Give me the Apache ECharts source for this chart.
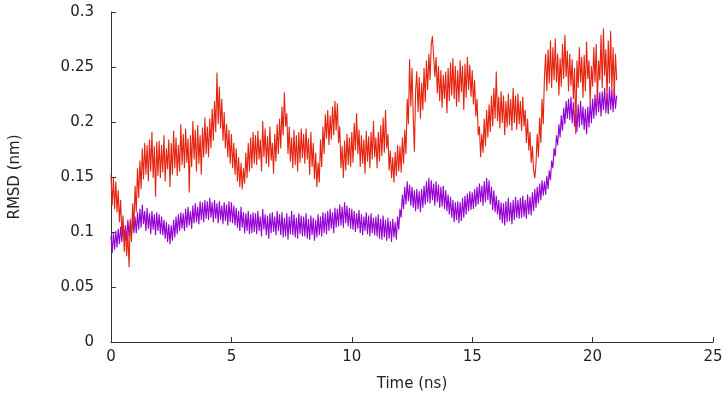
<!DOCTYPE html>
<html>
<head>
<meta charset="utf-8">
<script src="https://cdn.jsdelivr.net/npm/echarts@6/dist/echarts.min.js"></script>
<style>
  html, body { margin: 0; padding: 0; background: #fff; }
  #chart { width: 728px; height: 403px; }
</style>
</head>
<body>
<div id="chart"></div>
<script>
// sampling step of the trajectory (ns)
const timeStep = 0.05
const xTicks = [0, 5, 10, 15, 20, 25]
const yTicks = [0, 0.05, 0.1, 0.15, 0.2, 0.25, 0.3]

// red trace, one row per ns
const rmsdRed = [
  0.152, 0.124, 0.149, 0.121, 0.146, 0.118, 0.138, 0.109, 0.129, 0.098, 0.115, 0.082, 0.104, 0.078, 0.099, 0.068, 0.112, 0.091, 0.126, 0.104,
  0.142, 0.118, 0.158, 0.131, 0.165, 0.139, 0.176, 0.148, 0.181, 0.152, 0.179, 0.146, 0.184, 0.155, 0.191, 0.149, 0.178, 0.132, 0.182, 0.151,
  0.183, 0.149, 0.179, 0.154, 0.188, 0.146, 0.176, 0.157, 0.184, 0.141, 0.181, 0.152, 0.192, 0.158, 0.186, 0.151, 0.179, 0.155, 0.198, 0.161,
  0.189, 0.158, 0.194, 0.163, 0.185, 0.136, 0.188, 0.159, 0.201, 0.166, 0.193, 0.155, 0.197, 0.162, 0.188, 0.152, 0.195, 0.168, 0.204, 0.171,
  0.196, 0.168, 0.203, 0.176, 0.212, 0.183, 0.219, 0.191, 0.245, 0.198, 0.232, 0.194, 0.221, 0.183, 0.209, 0.176, 0.198, 0.168, 0.193, 0.162,
  0.189, 0.158, 0.181, 0.152, 0.176, 0.146, 0.168, 0.141, 0.163, 0.139, 0.158, 0.144, 0.172, 0.149, 0.181, 0.155, 0.186, 0.158, 0.191, 0.162,
  0.188, 0.161, 0.192, 0.166, 0.184, 0.155, 0.201, 0.168, 0.194, 0.162, 0.187, 0.159, 0.196, 0.165, 0.181, 0.153, 0.189, 0.164, 0.198, 0.171,
  0.203, 0.176, 0.214, 0.188, 0.227, 0.196, 0.208, 0.171, 0.196, 0.164, 0.186, 0.158, 0.193, 0.161, 0.188, 0.155, 0.191, 0.163, 0.194, 0.167,
  0.189, 0.162, 0.194, 0.166, 0.185, 0.152, 0.191, 0.159, 0.181, 0.148, 0.172, 0.141, 0.163, 0.145, 0.184, 0.159, 0.196, 0.171, 0.207, 0.185,
  0.211, 0.179, 0.206, 0.184, 0.214, 0.188, 0.219, 0.192, 0.217, 0.181, 0.196, 0.158, 0.178, 0.149, 0.183, 0.156, 0.189, 0.161, 0.186, 0.159,
  0.191, 0.163, 0.199, 0.174, 0.208, 0.171, 0.193, 0.159, 0.188, 0.162, 0.184, 0.153, 0.192, 0.164, 0.187, 0.158, 0.191, 0.166, 0.201, 0.168,
  0.186, 0.158, 0.191, 0.164, 0.197, 0.169, 0.204, 0.172, 0.211, 0.176, 0.189, 0.156, 0.174, 0.149, 0.168, 0.145, 0.173, 0.151, 0.179, 0.155,
  0.178, 0.154, 0.186, 0.162, 0.193, 0.171, 0.221, 0.198, 0.257, 0.214, 0.249, 0.206, 0.173, 0.228, 0.246, 0.209, 0.241, 0.203, 0.236, 0.211,
  0.249, 0.218, 0.256, 0.229, 0.262, 0.238, 0.271, 0.278, 0.258, 0.241, 0.259, 0.226, 0.251, 0.219, 0.247, 0.213, 0.243, 0.221, 0.246, 0.208,
  0.249, 0.219, 0.254, 0.224, 0.258, 0.221, 0.251, 0.214, 0.247, 0.218, 0.256, 0.227, 0.251, 0.211, 0.253, 0.222, 0.259, 0.229, 0.252, 0.223,
  0.247, 0.216, 0.238, 0.205, 0.221, 0.188, 0.196, 0.168, 0.189, 0.172, 0.203, 0.178, 0.211, 0.186, 0.216, 0.191, 0.224, 0.196, 0.231, 0.203,
  0.246, 0.201, 0.223, 0.194, 0.228, 0.199, 0.224, 0.188, 0.219, 0.195, 0.226, 0.197, 0.221, 0.192, 0.231, 0.199, 0.224, 0.193, 0.226, 0.198,
  0.219, 0.192, 0.223, 0.196, 0.211, 0.181, 0.203, 0.174, 0.191, 0.163, 0.178, 0.156, 0.149, 0.162, 0.189, 0.168, 0.204, 0.181, 0.221, 0.198,
  0.241, 0.262, 0.228, 0.266, 0.235, 0.274, 0.231, 0.268, 0.238, 0.276, 0.236, 0.262, 0.224, 0.258, 0.232, 0.271, 0.239, 0.279, 0.241, 0.265,
  0.228, 0.262, 0.233, 0.257, 0.221, 0.249, 0.189, 0.256, 0.231, 0.268, 0.236, 0.259, 0.222, 0.261, 0.228, 0.273, 0.239, 0.256, 0.217, 0.251,
  0.232, 0.268, 0.236, 0.271, 0.219, 0.256, 0.238, 0.279, 0.231, 0.285, 0.242, 0.266, 0.221, 0.274, 0.235, 0.283, 0.228, 0.268, 0.224, 0.262,
  0.238
]

// purple trace, one row per ns
const rmsdPurple = [
  0.096, 0.081, 0.099, 0.084, 0.101, 0.086, 0.103, 0.089, 0.105, 0.091, 0.108, 0.094, 0.106, 0.092, 0.111, 0.096, 0.109, 0.098, 0.113, 0.099,
  0.114, 0.099, 0.118, 0.102, 0.121, 0.104, 0.125, 0.107, 0.119, 0.101, 0.122, 0.103, 0.117, 0.098, 0.119, 0.102, 0.116, 0.097, 0.118, 0.101,
  0.116, 0.098, 0.114, 0.097, 0.111, 0.094, 0.109, 0.091, 0.107, 0.089, 0.106, 0.092, 0.111, 0.095, 0.114, 0.098, 0.116, 0.101, 0.118, 0.103,
  0.117, 0.101, 0.121, 0.104, 0.123, 0.106, 0.119, 0.103, 0.124, 0.108, 0.126, 0.109, 0.123, 0.107, 0.128, 0.111, 0.127, 0.109, 0.129, 0.112,
  0.128, 0.111, 0.131, 0.113, 0.127, 0.109, 0.129, 0.112, 0.126, 0.108, 0.128, 0.111, 0.124, 0.107, 0.127, 0.110, 0.125, 0.106, 0.128, 0.109,
  0.127, 0.108, 0.124, 0.106, 0.122, 0.104, 0.119, 0.101, 0.123, 0.104, 0.118, 0.099, 0.117, 0.101, 0.119, 0.098, 0.116, 0.099, 0.118, 0.100,
  0.117, 0.098, 0.119, 0.101, 0.114, 0.096, 0.121, 0.102, 0.116, 0.097, 0.115, 0.094, 0.117, 0.099, 0.118, 0.100, 0.114, 0.097, 0.119, 0.101,
  0.116, 0.097, 0.118, 0.095, 0.113, 0.096, 0.117, 0.093, 0.114, 0.098, 0.119, 0.097, 0.116, 0.095, 0.113, 0.094, 0.117, 0.098, 0.115, 0.096,
  0.114, 0.096, 0.117, 0.094, 0.112, 0.093, 0.115, 0.097, 0.113, 0.092, 0.111, 0.095, 0.116, 0.097, 0.114, 0.096, 0.118, 0.099, 0.117, 0.098,
  0.119, 0.101, 0.121, 0.103, 0.118, 0.099, 0.122, 0.104, 0.121, 0.105, 0.125, 0.106, 0.123, 0.104, 0.127, 0.108, 0.124, 0.105, 0.122, 0.103,
  0.121, 0.102, 0.119, 0.100, 0.117, 0.103, 0.120, 0.099, 0.116, 0.097, 0.114, 0.101, 0.118, 0.098, 0.115, 0.096, 0.117, 0.099, 0.113, 0.097,
  0.114, 0.096, 0.116, 0.094, 0.112, 0.093, 0.115, 0.095, 0.111, 0.092, 0.113, 0.094, 0.110, 0.091, 0.112, 0.095, 0.109, 0.093, 0.114, 0.102,
  0.121, 0.113, 0.134, 0.121, 0.141, 0.125, 0.146, 0.128, 0.143, 0.124, 0.141, 0.122, 0.138, 0.119, 0.139, 0.121, 0.137, 0.118, 0.139, 0.122,
  0.142, 0.125, 0.146, 0.127, 0.149, 0.126, 0.147, 0.129, 0.144, 0.124, 0.146, 0.127, 0.143, 0.122, 0.141, 0.123, 0.142, 0.121, 0.138, 0.119,
  0.134, 0.116, 0.132, 0.113, 0.129, 0.109, 0.127, 0.111, 0.128, 0.108, 0.127, 0.110, 0.131, 0.113, 0.133, 0.116, 0.135, 0.119, 0.137, 0.120,
  0.136, 0.121, 0.139, 0.123, 0.141, 0.125, 0.144, 0.127, 0.142, 0.124, 0.146, 0.127, 0.149, 0.129, 0.147, 0.125, 0.141, 0.120, 0.138, 0.118,
  0.133, 0.116, 0.129, 0.111, 0.127, 0.108, 0.126, 0.106, 0.128, 0.109, 0.131, 0.110, 0.127, 0.107, 0.129, 0.111, 0.132, 0.113, 0.129, 0.112,
  0.131, 0.113, 0.133, 0.114, 0.129, 0.112, 0.134, 0.116, 0.132, 0.115, 0.136, 0.119, 0.139, 0.122, 0.141, 0.126, 0.144, 0.129, 0.147, 0.133,
  0.146, 0.134, 0.151, 0.139, 0.156, 0.147, 0.165, 0.158, 0.176, 0.169, 0.188, 0.179, 0.198, 0.186, 0.206, 0.192, 0.213, 0.198, 0.219, 0.203,
  0.221, 0.202, 0.223, 0.199, 0.218, 0.196, 0.214, 0.191, 0.216, 0.195, 0.219, 0.197, 0.214, 0.193, 0.212, 0.189, 0.214, 0.195, 0.218, 0.199,
  0.221, 0.203, 0.225, 0.206, 0.229, 0.209, 0.227, 0.205, 0.228, 0.211, 0.231, 0.208, 0.226, 0.207, 0.232, 0.211, 0.229, 0.209, 0.231, 0.212,
  0.224
]

const toPoints = arr => arr.map((v, i) => [+(i * timeStep).toFixed(2), v])

const chart = echarts.init(document.getElementById('chart'), null, { renderer: 'canvas' })
const font = 'DejaVu Sans'

chart.setOption({
  animation: false,
  backgroundColor: '#ffffff',
  grid: { left: 105, right: 15, top: 12, bottom: 61 },
  xAxis: {
    type: 'value',
    min: xTicks[0],
    max: xTicks[xTicks.length - 1],
    interval: 5,
    name: 'Time (ns)',
    nameLocation: 'middle',
    nameGap: 35,
    nameTextStyle: { fontFamily: font, fontSize: 15, color: '#222' },
    axisLine: { lineStyle: { color: '#333', width: 1 } },
    axisTick: { inside: true, length: 5, lineStyle: { color: '#333' } },
    axisLabel: { fontFamily: font, fontSize: 15, color: '#222', margin: 8 },
    splitLine: { show: false }
  },
  yAxis: {
    type: 'value',
    min: yTicks[0],
    max: yTicks[yTicks.length - 1],
    interval: 0.05,
    name: 'RMSD (nm)',
    nameLocation: 'middle',
    nameGap: 88,
    nameTextStyle: { fontFamily: font, fontSize: 15, color: '#222' },
    axisLine: { show: true, lineStyle: { color: '#333', width: 1 } },
    axisTick: { show: true, inside: true, length: 5, lineStyle: { color: '#333' } },
    axisLabel: { fontFamily: font, fontSize: 15, color: '#222', margin: 17 },
    splitLine: { show: false }
  },
  series: [
    {
      name: 'purple',
      type: 'line',
      data: toPoints(rmsdPurple),
      showSymbol: false,
      symbol: 'none',
      lineStyle: { color: '#9400d3', width: 1.1 },
      z: 2
    },
    {
      name: 'red',
      type: 'line',
      data: toPoints(rmsdRed),
      showSymbol: false,
      symbol: 'none',
      lineStyle: { color: '#e5230f', width: 1.1 },
      z: 3
    }
  ]
})
</script>
</body>
</html>
